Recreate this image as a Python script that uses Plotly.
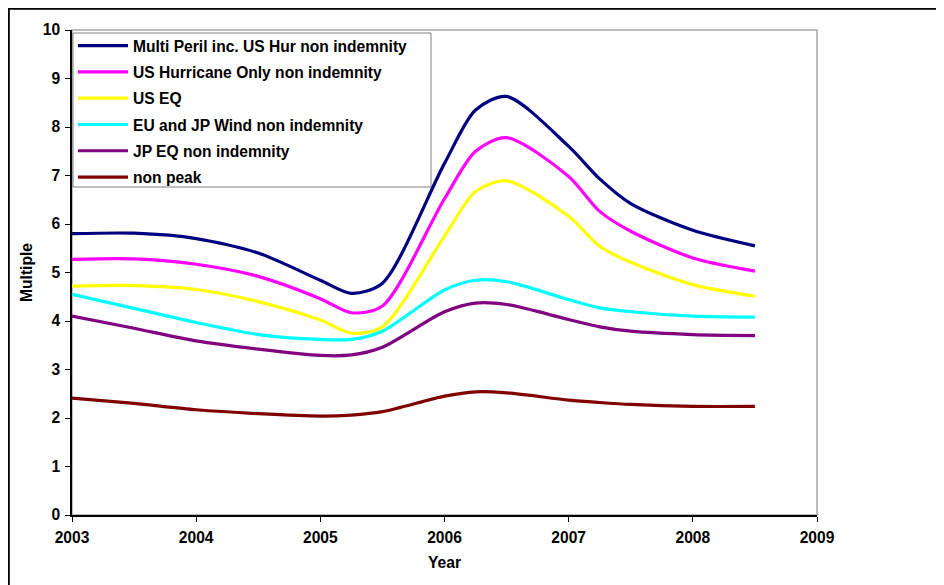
import plotly.graph_objects as go

years = [2003, 2003.5, 2004, 2004.5, 2005, 2005.25, 2005.5, 2006, 2006.25, 2006.5, 2007, 2007.25, 2007.5, 2008, 2008.5]

multi_peril = [5.80, 5.81, 5.70, 5.40, 4.84, 4.57, 4.78, 7.25, 8.35, 8.63, 7.60, 6.93, 6.42, 5.87, 5.55]
us_hurricane = [5.27, 5.28, 5.17, 4.92, 4.46, 4.17, 4.31, 6.52, 7.50, 7.78, 6.98, 6.26, 5.85, 5.30, 5.03]
us_eq = [4.72, 4.73, 4.65, 4.40, 4.02, 3.75, 3.88, 5.75, 6.67, 6.89, 6.16, 5.54, 5.21, 4.75, 4.51]
eu_jp_wind = [4.55, 4.26, 3.97, 3.72, 3.62, 3.62, 3.79, 4.64, 4.84, 4.81, 4.44, 4.27, 4.19, 4.10, 4.08]
jp_eq = [4.10, 3.85, 3.59, 3.42, 3.29, 3.30, 3.46, 4.19, 4.37, 4.34, 4.03, 3.88, 3.79, 3.72, 3.70]
non_peak = [2.41, 2.30, 2.17, 2.09, 2.04, 2.06, 2.13, 2.45, 2.54, 2.52, 2.37, 2.32, 2.28, 2.24, 2.24]

series_names = [
    "Multi Peril inc. US Hur non indemnity",
    "US Hurricane Only non indemnity",
    "US EQ",
    "EU and JP Wind non indemnity",
    "JP EQ non indemnity",
    "non peak",
]
series_values = [multi_peril, us_hurricane, us_eq, eu_jp_wind, jp_eq, non_peak]
series_colors = ["#000080", "#FF00FF", "#FFFF00", "#00FFFF", "#800080", "#800000"]

x_ticks = [2003, 2004, 2005, 2006, 2007, 2008, 2009]
y_ticks = list(range(0, 11))

FONT = "Arial, Liberation Sans, sans-serif"
FS = 15.6

fig = go.Figure()
for i, (name, vals, col) in enumerate(zip(series_names, series_values, series_colors)):
    fig.add_trace(go.Scatter(
        x=years, y=vals, name=name, mode="lines",
        line=dict(color=col, width=3.2, shape="spline", smoothing=0.8),
        legendgroup=f"g{i}",
    ))

# the page body has an 8px margin, so the figure is placed 8px right/down
OFF = 8
W, H = 944 - OFF, 585 - OFF
L = 72 - OFF
T = 30 - OFF
R = W - (817 - OFF)
B = H - (515 - OFF)
pw, ph = W - L - R, H - T - B


def px_x(page_x):
    return (page_x - 72) / pw


def px_y(page_y):
    return (515 - page_y) / ph


fig.update_layout(
    width=W, height=H,
    margin=dict(l=L, r=R, t=T, b=B, pad=0),
    paper_bgcolor="white", plot_bgcolor="white",
    font=dict(family=FONT, size=FS, color="black", weight="bold"),
    showlegend=True,
    legend=dict(
        x=px_x(73), y=px_y(29), xanchor="left", yanchor="top",
        bgcolor="rgba(0,0,0,0)", borderwidth=0,
        font=dict(family=FONT, size=FS, color="black", weight="bold"),
        tracegroupgap=3, itemwidth=50,
    ),
    xaxis=dict(
        range=[2003, 2009], tickmode="array", tickvals=x_ticks,
        ticktext=[str(v) for v in x_ticks],
        showgrid=False, zeroline=False,
        showline=True, linecolor="#000000", linewidth=1.5,
        ticks="outside", ticklen=5, tickcolor="#000000", tickwidth=1,
        ticklabelstandoff=3,
        title=dict(text="Year", font=dict(family=FONT, size=FS, weight="bold"), standoff=12),
    ),
    yaxis=dict(
        range=[0, 10], tickmode="array", tickvals=y_ticks,
        showgrid=False, zeroline=False,
        showline=True, linecolor="#000000", linewidth=1.5,
        ticks="outside", ticklen=5, tickcolor="#000000", tickwidth=1,
        ticklabelstandoff=2,
        title=dict(text="Multiple", font=dict(family=FONT, size=FS, weight="bold"), standoff=6),
    ),
    shapes=[
        # plot area border (grey)
        dict(type="rect", xref="paper", yref="paper", x0=0, x1=1, y0=0, y1=1,
             line=dict(color="#A6A6A6", width=1.5), layer="below"),
        # legend box
        dict(type="rect", xref="paper", yref="paper",
             x0=px_x(73), x1=px_x(431), y0=px_y(187), y1=px_y(33),
             line=dict(color="#808080", width=1), fillcolor="white", layer="below"),
        # outer chart frame
        dict(type="rect", xref="paper", yref="paper",
             x0=px_x(8.9), x1=px_x(990), y0=px_y(640), y1=px_y(8.9),
             line=dict(color="#000000", width=1.8), layer="below"),
    ],
)

fig.write_html("out.html")
